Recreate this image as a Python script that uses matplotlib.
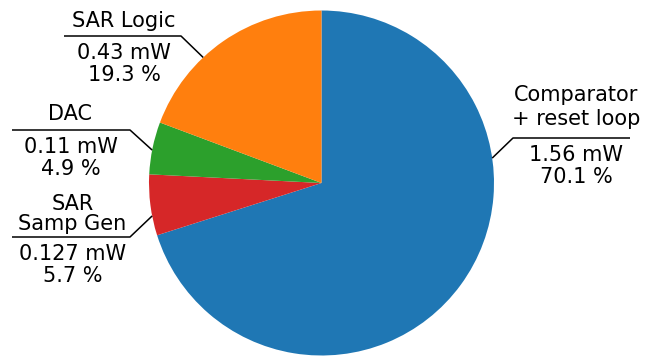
import matplotlib
matplotlib.use("Agg")
import matplotlib.pyplot as plt
import numpy as np

# Power breakdown of the SAR ADC blocks
blocks = ["Comparator\n+ reset loop", "SAR\nSamp Gen", "DAC", "SAR Logic"]
power_mw = [1.56, 0.127, 0.11, 0.43]
share_pct = [70.1, 5.7, 4.9, 19.3]
colors = ["#1f77b4", "#d62728", "#2ca02c", "#ff7f0e"]

W, H = 645, 357
fig = plt.figure(figsize=(W / 100, H / 100), dpi=100)
ax = fig.add_axes([0, 0, 1, 1])

cx, cy, r = 321.5, H - 183.0, 172.5
ax.pie(share_pct, colors=colors, startangle=90, counterclock=False,
       center=(cx, cy), radius=r)
ax.set_xlim(0, W)
ax.set_ylim(0, H)
ax.set_aspect("equal")
ax.axis("off")

# leader layout (pixel units, y from top): rim angle of the anchor,
# shelf height, shelf span, text centre, baselines of the name lines
anchor_deg = [8.3, 191.0, 169.0, 133.3]
shelf_y = [138, 237, 130, 36]
shelf_x = [(513, 630), (12, 130), (12, 130), (64, 181)]
text_x = [576, 72.5, 70.5, 124]
name_base = [(101, 125), (210, 230), (119.5,), (27,)]

fs = 15
for name, p, s, ang, sy, (x0, x1), xc, nb in zip(
        blocks, power_mw, share_pct, anchor_deg, shelf_y, shelf_x,
        text_x, name_base):
    a = np.deg2rad(ang)
    axp, ayp = cx + r * np.cos(a), cy + r * np.sin(a)
    Y = H - sy
    xs = [x1, x0, axp] if axp > cx else [x0, x1, axp]
    ax.plot(xs, [Y, Y, ayp], color="black", lw=1.1, solid_capstyle="butt",
            zorder=3)
    for line, b in zip(name.split("\n"), nb):
        ax.text(xc, H - b, line, ha="center", va="baseline", fontsize=fs)
    values = [f"{p:g} mW", f"{s:.1f} %"]
    for k, line in enumerate(values):
        ax.text(xc, H - (sy + 23 + 22 * k), line, ha="center",
                va="baseline", fontsize=fs)

fig.savefig("out.png", dpi=100)
